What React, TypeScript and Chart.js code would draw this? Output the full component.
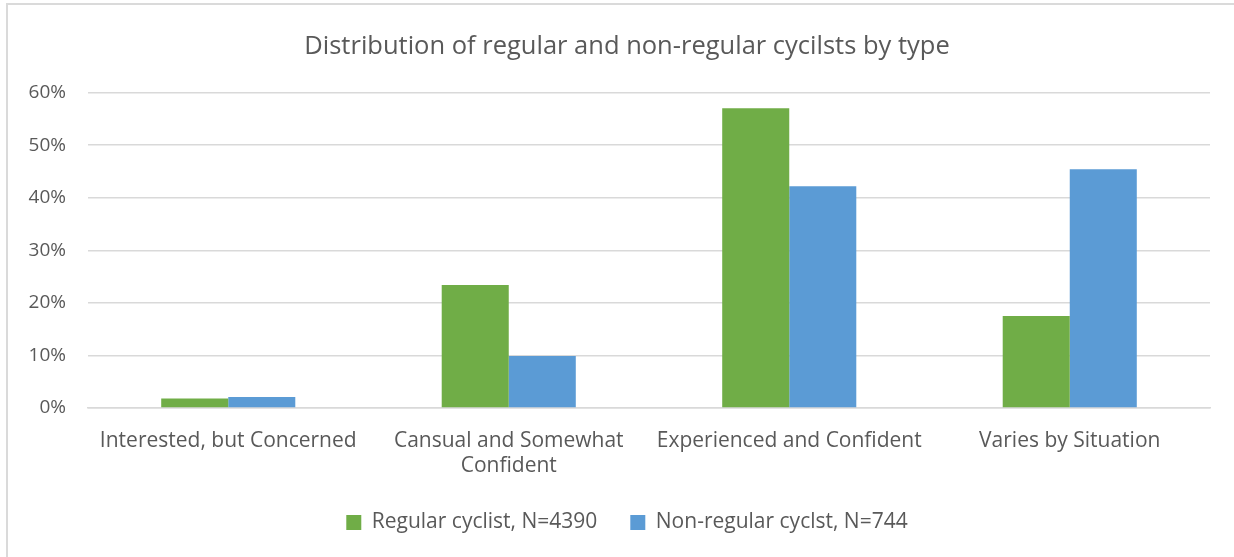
import React, { useEffect, useRef } from "react";
import { Chart, registerables } from "chart.js";

Chart.register(...registerables);

const categories: (string | string[])[] = [
  "Interested, but Concerned",
  ["Cansual and Somewhat", "Confident"],
  "Experienced and Confident",
  "Varies by Situation",
];
const regularValues = [1.8, 23.4, 57.0, 17.5];
const nonRegularValues = [2.1, 9.9, 42.2, 45.4];
const seriesLabels = ["Regular cyclist, N=4390", "Non-regular cyclst, N=744"];
const titleText = "Distribution of regular and non-regular cycilsts by type";

const FONT = "'Open Sans', 'DejaVu Sans', sans-serif";
const TEXT = "#595959";
const GRID = "#d9d9d9";

export default function App() {
  const ref = useRef<HTMLCanvasElement | null>(null);
  useEffect(() => {
    if (!ref.current) return;
    const chart = new Chart(ref.current, {
      type: "bar",
      data: {
        labels: categories,
        datasets: [
          {
            label: seriesLabels[0],
            data: regularValues,
            backgroundColor: "#70AD47",
            borderWidth: 0,
            yAxisID: "y",
          },
          {
            label: seriesLabels[1],
            data: nonRegularValues,
            backgroundColor: "#5B9BD5",
            borderWidth: 0,
            yAxisID: "y",
          },
        ],
      },
      options: {
        animation: false,
        responsive: false,
        maintainAspectRatio: false,
        layout: { padding: { left: 20, right: 0, top: 0, bottom: 14 } },
        datasets: { bar: { categoryPercentage: 0.478, barPercentage: 1 } },
        plugins: {
          tooltip: { enabled: false },
          title: {
            display: true,
            text: titleText,
            color: TEXT,
            font: { family: FONT, size: 25.5, weight: "normal", lineHeight: 1.2 },
            padding: { top: 31, bottom: 31 },
          },
          legend: {
            position: "bottom",
            labels: {
              color: TEXT,
              font: { family: FONT, size: 21 },
              boxWidth: 15,
              boxHeight: 15,
              padding: 33,
            },
          },
        },
        scales: {
          x: {
            grid: { display: false, drawTicks: false },
            border: { display: true, color: GRID, width: 1.5 },
            ticks: {
              color: TEXT,
              font: { family: FONT, size: 21, lineHeight: 1.22 },
              padding: 20,
              maxRotation: 0,
              autoSkip: false,
            },
            afterFit: (s: any) => {
              s.height = 71;
            },
          },
          y: {
            min: 0,
            max: 60,
            grid: { color: GRID, lineWidth: 1.5, drawTicks: false },
            border: { display: false },
            ticks: {
              stepSize: 10,
              color: TEXT,
              font: { family: FONT, size: 19 },
              padding: 22,
              callback: (v: any) => v + "%",
            },
            afterFit: (s: any) => {
              s.width = 68;
            },
          },
          yRight: {
            position: "right",
            min: 0,
            max: 60,
            grid: { display: false, drawTicks: false },
            border: { display: false },
            ticks: { display: false },
            afterFit: (s: any) => {
              s.width = 24;
            },
          },
        },
      },
    });
    return () => chart.destroy();
  }, []);
  return (
    <div style={{ position: "fixed", left: 0, top: 0, width: 1234, height: 557, background: "#fff" }}>
      <div
        style={{
          position: "absolute",
          left: 6,
          top: 3,
          right: 0,
          bottom: 0,
          borderTop: "2px solid #dadada",
          borderLeft: "2px solid #dadada",
        }}
      />
      <canvas ref={ref} width={1234} height={557} style={{ position: "absolute", left: 0, top: 0 }} />
    </div>
  );
}
